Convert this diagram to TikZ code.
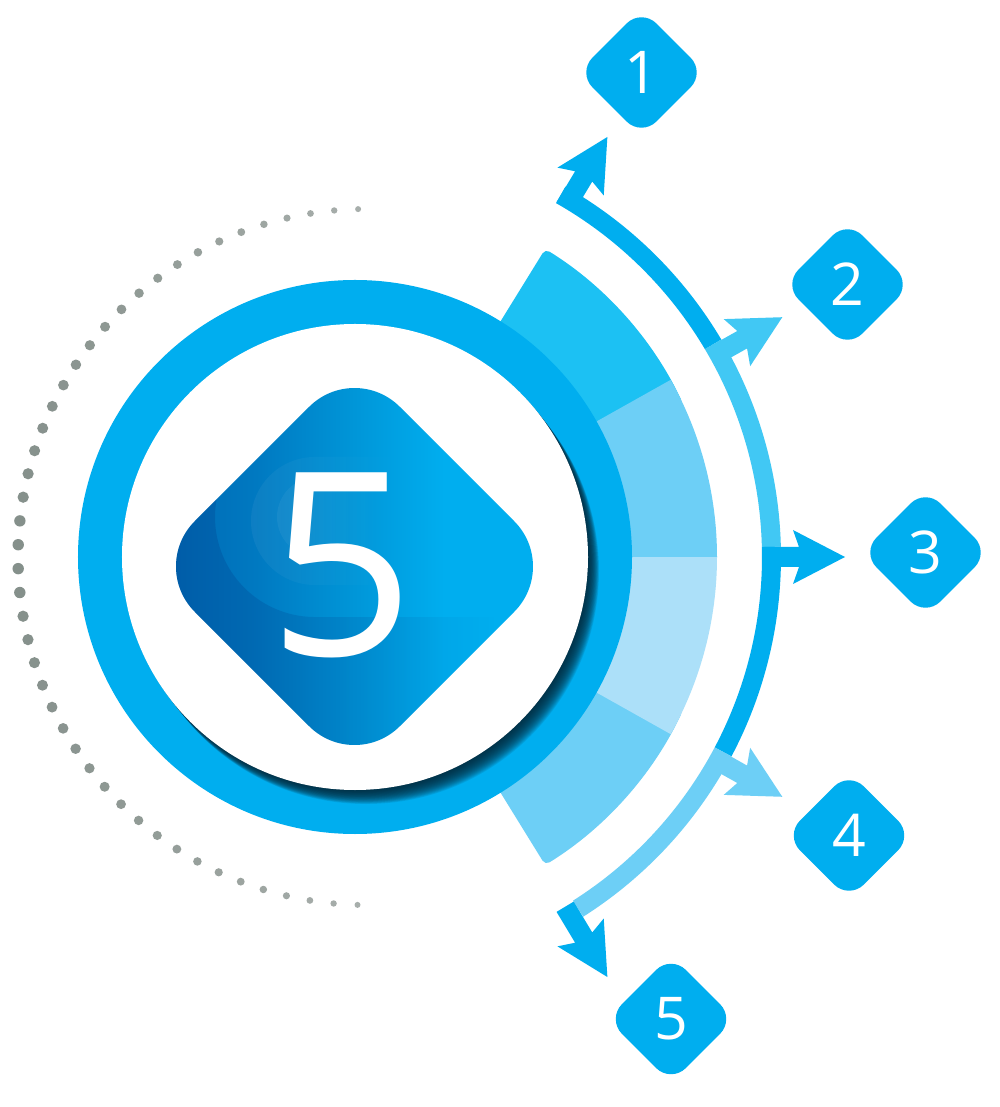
\documentclass[tikz,border=0pt]{standalone}
\usepackage{fontspec}
\setmainfont{Open Sans}
\usetikzlibrary{shapes.geometric,calc,fadings}
\definecolor{ringblue}{HTML}{00AEEF}
\definecolor{bandtop}{HTML}{1CC1F3}
\definecolor{bandmid}{HTML}{6DCFF6}
\definecolor{bandlight}{HTML}{ACE0F9}
\definecolor{arrdark}{HTML}{00AEEF}
\definecolor{arrmid}{HTML}{41C8F4}
\definecolor{arrlight}{HTML}{6DCFF6}
\definecolor{dotdark}{HTML}{85908B}
\definecolor{dotlight}{HTML}{A7AEAB}
\definecolor{shadowcol}{HTML}{08293B}
\definecolor{lobecol}{HTML}{004A96}
\definecolor{dmA}{HTML}{0066B1}
\definecolor{dmB}{HTML}{0079C1}
\definecolor{dmC}{HTML}{0096D8}
\definecolor{dmD}{HTML}{00AEEF}
\pgfdeclarehorizontalshading{dmshade}{100bp}{color(0bp)=(dmA); color(25bp)=(dmA); color(38bp)=(dmB); color(50bp)=(dmC); color(61bp)=(dmD); color(100bp)=(dmD)}
\tikzset{
  numdia/.style={diamond, aspect=1, fill=ringblue, text=white, minimum width=128pt, minimum height=128pt, inner sep=0pt, rounded corners=21pt, font=\fontsize{59pt}{60pt}\selectfont},
  bigdigit/.style={text=white, inner sep=0pt, font=\fontsize{256pt}{256pt}\selectfont}
}
\begin{document}
\begin{tikzpicture}[x=1pt,y=1pt]
\useasboundingbox (-355,-550) rectangle (645,557);
\fill[white] (-355,-550) rectangle (645,557);
% dotted arc
\foreach \i in {0,...,45}{
  \pgfmathsetmacro{\ang}{91.3+3.94*\i}
  \pgfmathsetmacro{\s}{sin(4*\i)}
  \pgfmathsetmacro{\rad}{3+2.7*\s}
  \pgfmathtruncatemacro{\mix}{100*\s}
  \fill[dotdark!\mix!dotlight] ($(11,0)+(\ang:348)$) circle[radius=\rad];
}
% band segments
\fill[bandmid, rounded corners=5pt] (-58.3:262) -- (-58.3:362) arc[start angle=-58.3, end angle=-25, radius=362] -- (-25:262) -- cycle;
\fill[bandlight] (-29.3:262) -- (-29.3:362) arc[start angle=-29.3, end angle=0, radius=362] -- (0:262) -- cycle;
\fill[bandtop, rounded corners=5pt] (25:262) -- (25:362) arc[start angle=25, end angle=58.3, radius=362] -- (58.3:262) -- cycle;
\fill[bandmid] (0:262) -- (0:362) arc[start angle=0, end angle=29.3, radius=362] -- (29.3:262) -- cycle;
% ring
\fill[ringblue] (0,0) circle[radius=277];
% shadow of white disc
\begin{scope}
  \clip (0,0) circle[radius=277];
  \foreach \k in {1,...,20}{
    \fill[shadowcol, opacity=0.1] ({0.55*\k},{-0.7*\k}) circle[radius=233];
  }
\end{scope}
\fill[white] (0,0) circle[radius=233];
% central diamond
\begin{scope}
  \clip[rounded corners=64pt] (-205.5,-9.5) -- (-0.5,195.5) -- (204.5,-9.5) -- (-0.5,-214.5) -- cycle;
  \shade[shading=dmshade] (-205.5,-214.5) rectangle (204.5,195.5);
  \fill[lobecol, opacity=0.45, path fading=east] ($(-40,40)+(170:100)$) arc[start angle=170, end angle=270, radius=100] -- (140,-60) -- (140,-230) -- (-215,-230) -- (-215,57) -- cycle;
  \fill[white, opacity=0.05, path fading=east] (40,100) -- (-40,100) arc[start angle=90, end angle=270, radius=64] -- (40,-28) -- cycle;
  \fill[white, opacity=0.05, path fading=east] (30,80) -- (-38,80) arc[start angle=90, end angle=270, radius=40] -- (30,0) -- cycle;
\end{scope}
\node[bigdigit] (bigfive) at (-13.5,-8) {5};
% outer arc segments
\foreach \a/\b/\c in {59/29.3/arrdark, 29.3/0/arrmid, 0/-29.3/arrdark, -29.3/-59/arrlight}{
  \pgfmathsetmacro{\sa}{\a+1.4}
  \pgfmathsetmacro{\sb}{\b+1.4}
  \fill[\c] (\sa:407) arc[start angle=\sa, end angle=\sb, radius=407] -- (\sb:426) arc[start angle=\sb, end angle=\sa, radius=426] -- cycle;
}
% arrows
\foreach \a/\c in {59/arrdark, 29.3/arrmid, 0/arrdark, -29.3/arrlight, -59/arrdark}{
  \fill[\c, rotate=\a] (408,-10) -- (444,-10) -- (438,-27) -- (490,0) -- (438,27) -- (444,10) -- (408,10) -- cycle;
}
% numbered diamonds
\node[numdia] (n1) at (286.5,484.5) {1};
\node[numdia] (n2) at (492.5,272.5) {2};
\node[numdia] (n3) at (570.5,4.5) {3};
\node[numdia] (n4) at (494,-278.5) {4};
\node[numdia] (n5) at (316,-462) {5};
\end{tikzpicture}
\end{document}
